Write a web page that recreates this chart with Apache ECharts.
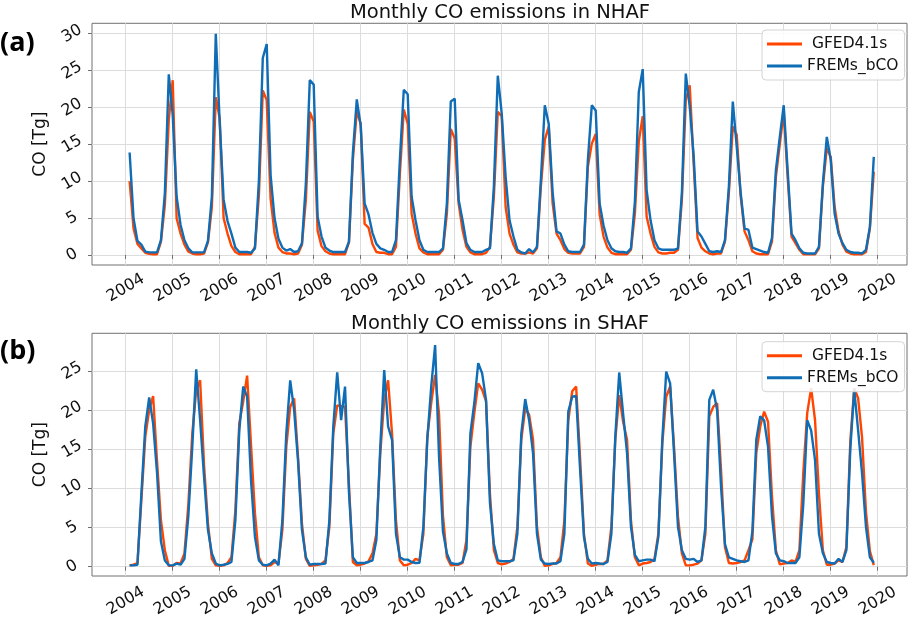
<!DOCTYPE html>
<html><head><meta charset="utf-8">
<script src="https://cdn.jsdelivr.net/npm/echarts@6/dist/echarts.min.js"></script>
<style>html,body{margin:0;padding:0;background:#fff}#c{width:918px;height:622px}</style>
</head><body><div id="c"></div>
<script>
// Tick labels
const years = [2004,2005,2006,2007,2008,2009,2010,2011,2012,2013,2014,2015,2016,2017,2018,2019,2020];
const yTicksA = [0,5,10,15,20,25,30];
const yTicksB = [0,5,10,15,20,25];
const seriesNames = ['GFED4.1s','FREMs_bCO'];
// Monthly values, Feb 2004 .. Dec 2019 (Tg CO)
const nhafGFED = [10.0,3.6,1.5,0.9,0.3,0.15,0.1,0.1,1.8,6.8,18.3,23.7,
5.0,2.9,1.4,0.45,0.2,0.1,0.1,0.2,1.7,6.5,21.4,18.5,
5.0,2.9,1.2,0.4,0.1,0.1,0.1,0.1,1.1,8.0,22.3,21.0,
7.6,3.0,1.0,0.4,0.2,0.2,0.1,0.2,1.4,7.5,19.4,18.1,
3.3,1.2,0.5,0.2,0.1,0.1,0.1,0.1,1.7,12.9,19.5,17.8,
4.2,3.7,1.5,0.4,0.3,0.3,0.1,0.1,1.1,11.0,19.7,17.8,
5.6,2.9,0.9,0.35,0.1,0.1,0.1,0.1,0.7,5.6,17.1,15.8,
7.0,3.4,1.1,0.35,0.1,0.1,0.1,0.3,1.1,7.9,19.4,18.8,
6.5,2.9,1.4,0.35,0.2,0.2,0.35,0.2,0.9,9.3,15.6,17.4,
7.0,2.9,2.0,0.8,0.3,0.2,0.2,0.2,1.1,12.0,15.1,16.4,
5.5,2.5,1.0,0.3,0.1,0.1,0.1,0.1,0.7,5.6,15.4,18.8,
5.2,2.9,1.1,0.35,0.2,0.2,0.3,0.3,0.7,7.5,21.0,23.0,
12.5,2.3,1.0,0.5,0.2,0.1,0.2,0.2,1.8,8.4,17.4,16.3,
8.0,3.2,2.0,0.5,0.2,0.1,0.1,0.1,1.8,10.6,15.0,19.4,
10.6,2.5,1.6,0.7,0.1,0.1,0.1,0.1,0.9,9.3,14.5,13.3,
6.5,3.2,1.4,0.45,0.2,0.1,0.1,0.1,0.4,3.6,11.3];
const nhafFREM = [13.9,5.0,1.9,1.4,0.45,0.35,0.35,0.35,2.0,8.4,24.5,19.0,
7.9,4.1,2.0,0.9,0.35,0.35,0.35,0.35,1.9,7.9,30.0,18.0,
7.5,4.6,2.9,1.0,0.4,0.4,0.4,0.3,0.9,10.0,26.7,28.6,
10.8,5.0,2.2,1.0,0.6,0.8,0.4,0.5,1.6,9.7,23.7,23.1,
5.2,2.5,1.0,0.6,0.4,0.4,0.4,0.4,1.8,13.8,21.1,17.5,
7.0,5.5,3.0,1.5,0.9,0.7,0.4,0.4,2.0,12.9,22.4,21.8,
7.9,4.7,2.0,0.7,0.4,0.4,0.4,0.4,0.9,7.0,20.8,21.2,
7.5,4.7,1.6,0.7,0.4,0.4,0.4,0.7,0.9,9.3,24.3,19.2,
10.6,4.7,2.5,0.7,0.35,0.2,0.8,0.35,1.1,10.2,20.3,17.8,
8.5,3.2,2.9,1.4,0.5,0.4,0.4,0.4,1.4,12.9,20.3,19.6,
7.0,4.0,2.0,0.9,0.5,0.4,0.4,0.3,0.9,7.2,22.1,25.2,
8.8,4.7,2.0,0.9,0.7,0.7,0.7,0.7,0.9,8.4,24.6,20.1,
13.5,3.2,2.5,1.5,0.5,0.4,0.5,0.4,2.0,9.3,20.8,14.7,
8.5,3.6,3.4,1.0,0.8,0.6,0.4,0.3,2.3,11.5,16.0,20.3,
11.5,2.9,2.0,0.9,0.3,0.2,0.2,0.2,1.1,9.7,16.0,12.9,
5.6,2.9,1.6,0.7,0.4,0.3,0.3,0.2,0.7,3.8,13.3];
const shafGFED = [0.17,0.25,0.47,8.5,16.6,20.0,21.8,13.5,5.9,2.1,0.1,0.1,
0.47,0.4,1.7,8.0,17.0,22.5,23.8,13.0,5.5,1.0,0.17,0.1,
0.17,0.47,1.2,7.2,18.3,21.1,24.4,15.5,6.8,1.2,0.17,0.1,
0.17,0.6,0.4,4.7,15.3,20.4,21.5,14.0,5.5,1.0,0.1,0.17,
0.25,0.35,0.8,5.1,17.0,20.6,20.5,20.4,10.5,0.6,0.17,0.25,
0.4,0.7,1.7,4.2,14.5,21.3,23.8,17.0,5.9,0.8,0.17,0.25,
0.47,1.0,0.8,4.2,16.6,20.9,24.5,19.5,6.5,1.2,0.17,0.25,
0.25,0.47,3.4,15.3,19.6,23.4,22.6,21.1,9.3,2.1,0.47,0.3,
0.4,0.6,1.0,5.1,16.2,20.2,19.4,16.2,5.1,1.2,0.1,0.17,
0.35,0.47,1.2,5.9,18.7,22.4,23.0,14.0,4.2,0.4,0.1,0.25,
0.35,0.35,0.8,5.1,16.2,21.9,18.5,16.2,5.9,1.2,0.17,0.4,
0.47,0.6,1.0,4.2,15.7,21.7,23.0,15.3,6.4,1.7,0.17,0.17,
0.25,0.4,0.8,4.2,19.2,20.4,20.9,12.3,2.5,0.47,0.4,0.47,
0.6,0.8,2.1,3.5,14.5,17.9,19.8,18.5,9.0,2.1,0.3,0.4,
0.47,0.8,0.6,2.1,12.0,19.6,22.8,18.7,9.3,2.1,0.25,0.25,
0.4,0.8,0.6,2.5,16.0,22.8,21.5,16.5,7.0,2.0,0.2];
const shafFREM = [0.17,0.17,0.25,9.3,17.9,21.6,18.3,12.0,3.2,0.8,0.17,0.17,
0.4,0.25,1.0,6.5,15.3,25.2,18.7,11.5,4.7,1.7,0.4,0.17,
0.25,0.35,0.6,5.9,17.4,23.0,21.7,11.0,3.8,0.8,0.25,0.17,
0.4,0.9,0.17,5.9,17.0,23.8,20.0,13.5,4.7,1.2,0.25,0.35,
0.35,0.35,0.4,5.9,17.9,24.8,18.7,23.0,9.5,1.2,0.47,0.47,
0.47,0.6,0.8,3.4,15.3,25.1,17.9,16.2,4.2,1.2,0.9,0.9,
0.6,0.47,0.5,5.1,16.2,23.0,28.3,14.0,4.5,1.7,0.47,0.35,
0.35,0.6,2.2,17.0,20.9,26.0,24.7,21.3,8.1,2.9,0.8,0.7,
0.7,0.7,0.8,4.2,17.0,21.4,18.7,14.5,4.2,0.9,0.4,0.35,
0.4,0.4,0.7,4.2,19.8,21.7,21.8,12.5,3.8,1.0,0.4,0.47,
0.4,0.35,0.6,4.2,16.6,24.8,19.5,14.5,5.1,1.5,0.7,0.8,
0.9,0.9,0.7,3.8,16.2,24.9,23.4,14.5,5.1,2.1,1.0,0.9,
1.0,0.6,0.8,5.1,21.3,22.6,20.0,10.2,2.9,1.2,1.0,0.8,
0.7,0.6,0.8,4.5,16.2,19.2,18.7,15.3,6.5,1.7,0.8,0.7,
0.47,0.47,0.47,1.2,8.0,18.7,17.4,13.6,4.2,1.7,0.6,0.47,
0.4,1.0,0.6,2.1,15.0,22.6,17.4,11.9,5.1,1.2,0.5];

const ORANGE = '#ff4500', BLUE = '#0f6db6';
const FONT = 'DejaVu Sans';
function toPairs(arr){ return arr.map((v,i)=>[2004 + (i+1)/12, v]); }

const chart = echarts.init(document.getElementById('c'), null, {renderer:'canvas'});

function xAx(g, margin){
  return {type:'value', gridIndex:g, min:2003.283, max:2020.623,
    axisLine:{show:false},
    axisTick:{show:true, customValues:years, length:4, lineStyle:{color:'#707070'}},
    axisLabel:{customValues:years, rotate:30, align:'center', verticalAlign:'middle', margin:margin,
      fontSize:16, color:'#111', fontFamily:FONT, formatter: v => String(Math.round(v))},
    splitLine:{show:true, lineStyle:{color:'#dcdcdc', width:1}}};
}
function yAx(g, mn, mx, ticks){
  return {type:'value', gridIndex:g, min:mn, max:mx,
    axisLine:{show:false},
    axisTick:{show:true, customValues:ticks, length:4, lineStyle:{color:'#707070'}},
    axisLabel:{customValues:ticks, rotate:30, align:'center', verticalAlign:'middle', margin:20,
      fontSize:16, color:'#111', fontFamily:FONT},
    splitLine:{show:true, lineStyle:{color:'#dcdcdc', width:1}},
    name:'CO [Tg]', nameLocation:'middle', nameGap:41, nameRotate:90,
    nameTextStyle:{fontSize:17, color:'#111', fontFamily:FONT}};
}
function legendAt(top){
  return {data:[{name:seriesNames[0], icon:'rect', itemStyle:{color:ORANGE}},
                {name:seriesNames[1], icon:'rect', itemStyle:{color:BLUE}}],
    orient:'vertical', left:762, top:top, itemWidth:35, itemHeight:3, itemGap:6,
    padding:[6,6,6,5], borderColor:'#d4d4d4', borderWidth:1, borderRadius:4,
    backgroundColor:'rgba(255,255,255,0.85)', selectedMode:false,
    formatter: n => n === 'GFED4.1s' ? ' ' + n : n,
    textStyle:{fontSize:15.5, color:'#111', fontFamily:FONT}};
}
function line(name, data, color, xi){
  return {type:'line', name:name, xAxisIndex:xi, yAxisIndex:xi, data:toPairs(data),
    showSymbol:false, symbol:'none', lineStyle:{color:color, width:2.4}, itemStyle:{color:color},
    emphasis:{disabled:true}, animation:false};
}

chart.setOption({
  animation:false,
  backgroundColor:'#fff',
  grid:[
    {left:92, top:23.3, width:815, height:241.7, show:true, borderColor:'#707070', borderWidth:1, backgroundColor:'transparent', outerBoundsMode:'none'},
    {left:92, top:333.3, width:815, height:242.7, show:true, borderColor:'#707070', borderWidth:1, backgroundColor:'transparent', outerBoundsMode:'none'}
  ],
  xAxis:[xAx(0, 23), xAx(1, 25)],
  yAxis:[yAx(0, -1.36, 31.41, yTicksA), yAx(1, -1.19, 29.8, yTicksB)],
  legend:[legendAt(30), legendAt(341.7)],
  series:[
    line(seriesNames[0], nhafGFED, ORANGE, 0),
    line(seriesNames[1], nhafFREM, BLUE, 0),
    line(seriesNames[0], shafGFED, ORANGE, 1),
    line(seriesNames[1], shafFREM, BLUE, 1)
  ],
  graphic:[
    {type:'text', x:500, y:12.7, style:{text:'Monthly CO emissions in NHAF', fontSize:19.5, fontFamily:FONT, fill:'#111', textAlign:'center', textVerticalAlign:'middle'}},
    {type:'text', x:500, y:324, style:{text:'Monthly CO emissions in SHAF', fontSize:19.5, fontFamily:FONT, fill:'#111', textAlign:'center', textVerticalAlign:'middle'}},
    {type:'text', x:0, y:43, style:{text:'(a)', fontSize:27, fontWeight:'bold', fontFamily:'Open Sans', fill:'#000', textAlign:'left', textVerticalAlign:'middle'}},
    {type:'text', x:0, y:351, style:{text:'(b)', fontSize:27, fontWeight:'bold', fontFamily:'Open Sans', fill:'#000', textAlign:'left', textVerticalAlign:'middle'}}
  ]
});
</script></body></html>
